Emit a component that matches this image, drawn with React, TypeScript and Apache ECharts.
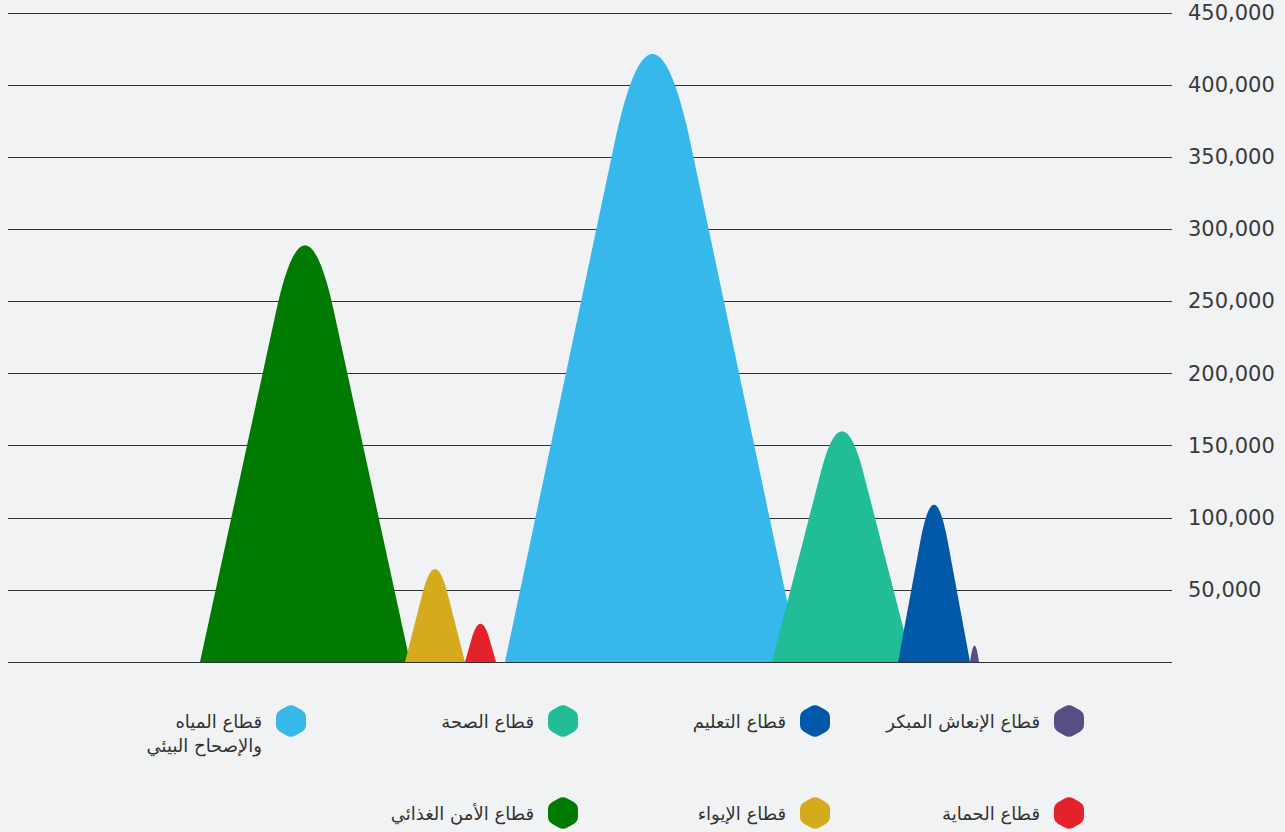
import React, { useEffect, useRef } from "react";
import * as echarts from "echarts";

// Sector names (series order: drawn back to front)
const sectors = [
  "قطاع الأمن الغذائي",
  "قطاع الإيواء",
  "قطاع الحماية",
  "قطاع المياه\nوالإصحاح البيئي",
  "قطاع الصحة",
  "قطاع التعليم",
  "قطاع الإنعاش المبكر",
];
// Peak values (people)
const values = [289000, 64500, 26500, 421500, 160000, 109000, 11500];
// Peak base extents on the hidden horizontal axis
const baseStart = [192, 397, 457, 497, 764, 890, 962];
const baseEnd = [402, 457, 488, 792, 904, 962, 971];
const colors = ["#007a00", "#d6aa1d", "#e52129", "#37b8ea", "#20bd96", "#0059a8", "#564f84"];

function hexPath(w: number, h: number, r: number): string {
  const pts = [
    [w / 2, 0],
    [w, h / 4],
    [w, (3 * h) / 4],
    [w / 2, h],
    [0, (3 * h) / 4],
    [0, h / 4],
  ];
  const n = pts.length;
  let d = "";
  for (let i = 0; i < n; i++) {
    const p = pts[i];
    const prev = pts[(i - 1 + n) % n];
    const next = pts[(i + 1) % n];
    const dx1 = prev[0] - p[0], dy1 = prev[1] - p[1];
    const l1 = Math.hypot(dx1, dy1);
    const dx2 = next[0] - p[0], dy2 = next[1] - p[1];
    const l2 = Math.hypot(dx2, dy2);
    const a = [p[0] + (dx1 / l1) * r, p[1] + (dy1 / l1) * r];
    const b = [p[0] + (dx2 / l2) * r, p[1] + (dy2 / l2) * r];
    d += (i === 0 ? "M" : "L") + a[0].toFixed(2) + " " + a[1].toFixed(2) + " ";
    d += "Q" + p[0] + " " + p[1] + " " + b[0].toFixed(2) + " " + b[1].toFixed(2) + " ";
  }
  return d + "Z";
}

let registered = false;

export default function App() {
  const ref = useRef<HTMLDivElement>(null);
  useEffect(() => {
    document.body.style.margin = "0";
    document.body.style.background = "#f0f2f4";
    if (!registered) {
      echarts.graphic.registerShape("hexIcon", echarts.graphic.extendPath(hexPath(30, 34, 5), {}) as any);
      registered = true;
    }
    const chart = echarts.init(ref.current!, null, { renderer: "svg" });

    const data = values.map((v, i) => ({
      name: sectors[i],
      value: [baseStart[i], baseEnd[i], v],
      itemStyle: { color: colors[i] },
    }));

    // legend: reversed series order, 4 per row, right to left
    const legendOrder = sectors.map((_, i) => sectors.length - 1 - i);
    const colX = [1069, 815, 563, 291];
    const rowY = [721, 813];
    const legendGraphics: any[] = [];
    legendOrder.forEach((si, k) => {
      const cx = colX[k % 4];
      const cy = rowY[Math.floor(k / 4)];
      legendGraphics.push({
        type: "hexIcon",
        x: cx - 15,
        y: cy - 17,
        style: { fill: colors[si] },
      });
      legendGraphics.push({
        type: "text",
        x: cx - 29,
        y: cy - 12,
        style: {
          text: sectors[si],
          fill: "#333",
          font: "18px 'DejaVu Sans'",
          align: "right",
          verticalAlign: "top",
          lineHeight: 24,
        },
      });
    });

    chart.setOption({
      animation: false,
      backgroundColor: "#f0f2f4",
      grid: { left: 8, right: 113, top: 13, bottom: 170, containLabel: false },
      xAxis: { type: "value", min: 0, max: 1164, show: false },
      yAxis: {
        type: "value",
        position: "right",
        min: 0,
        max: 450000,
        interval: 50000,
        axisLine: { show: false },
        axisTick: { show: false },
        splitLine: { show: true, lineStyle: { color: "#333", width: 1 } },
        axisLabel: {
          margin: 16,
          align: "left",
          color: "#3a3a3a",
          fontSize: 21,
          fontFamily: "DejaVu Sans",
          padding: [0, 0, 4, 0],
          formatter: (v: number) => (v === 0 ? "" : v.toLocaleString("en-US")),
        },
      },
      series: [
        {
          type: "custom",
          renderItem: (params: any, api: any) => {
            const x0 = api.value(0);
            const x1 = api.value(1);
            const v = api.value(2);
            const pA = api.coord([x0, 0]);
            const pB = api.coord([x1, 0]);
            const pTop = api.coord([(x0 + x1) / 2, v]);
            const yb = pA[1];
            const xa = pA[0];
            const xb = pB[0];
            const xc = pTop[0];
            const H = yb - pTop[1];
            const w = xb - xa;
            const t = Math.min(0.9, 0.22 + 12 / w);
            const Hp = H / (1 - t / 2);
            const apexY = yb - Hp;
            const ly = yb - (1 - t) * Hp;
            const lx = xa + (1 - t) * (xc - xa);
            const rx = xb - (1 - t) * (xb - xc);
            const d =
              `M${xa} ${yb} L${lx} ${ly} Q${xc} ${apexY} ${rx} ${ly} L${xb} ${yb} Z`;
            return {
              type: "path",
              shape: { pathData: d },
              style: { fill: api.visual("color") },
            };
          },
          encode: { x: [0, 1], y: 2 },
          data,
        },
      ],
      graphic: legendGraphics,
    });
    return () => chart.dispose();
  }, []);
  return <div ref={ref} style={{ width: 1285, height: 832 }} />;
}
